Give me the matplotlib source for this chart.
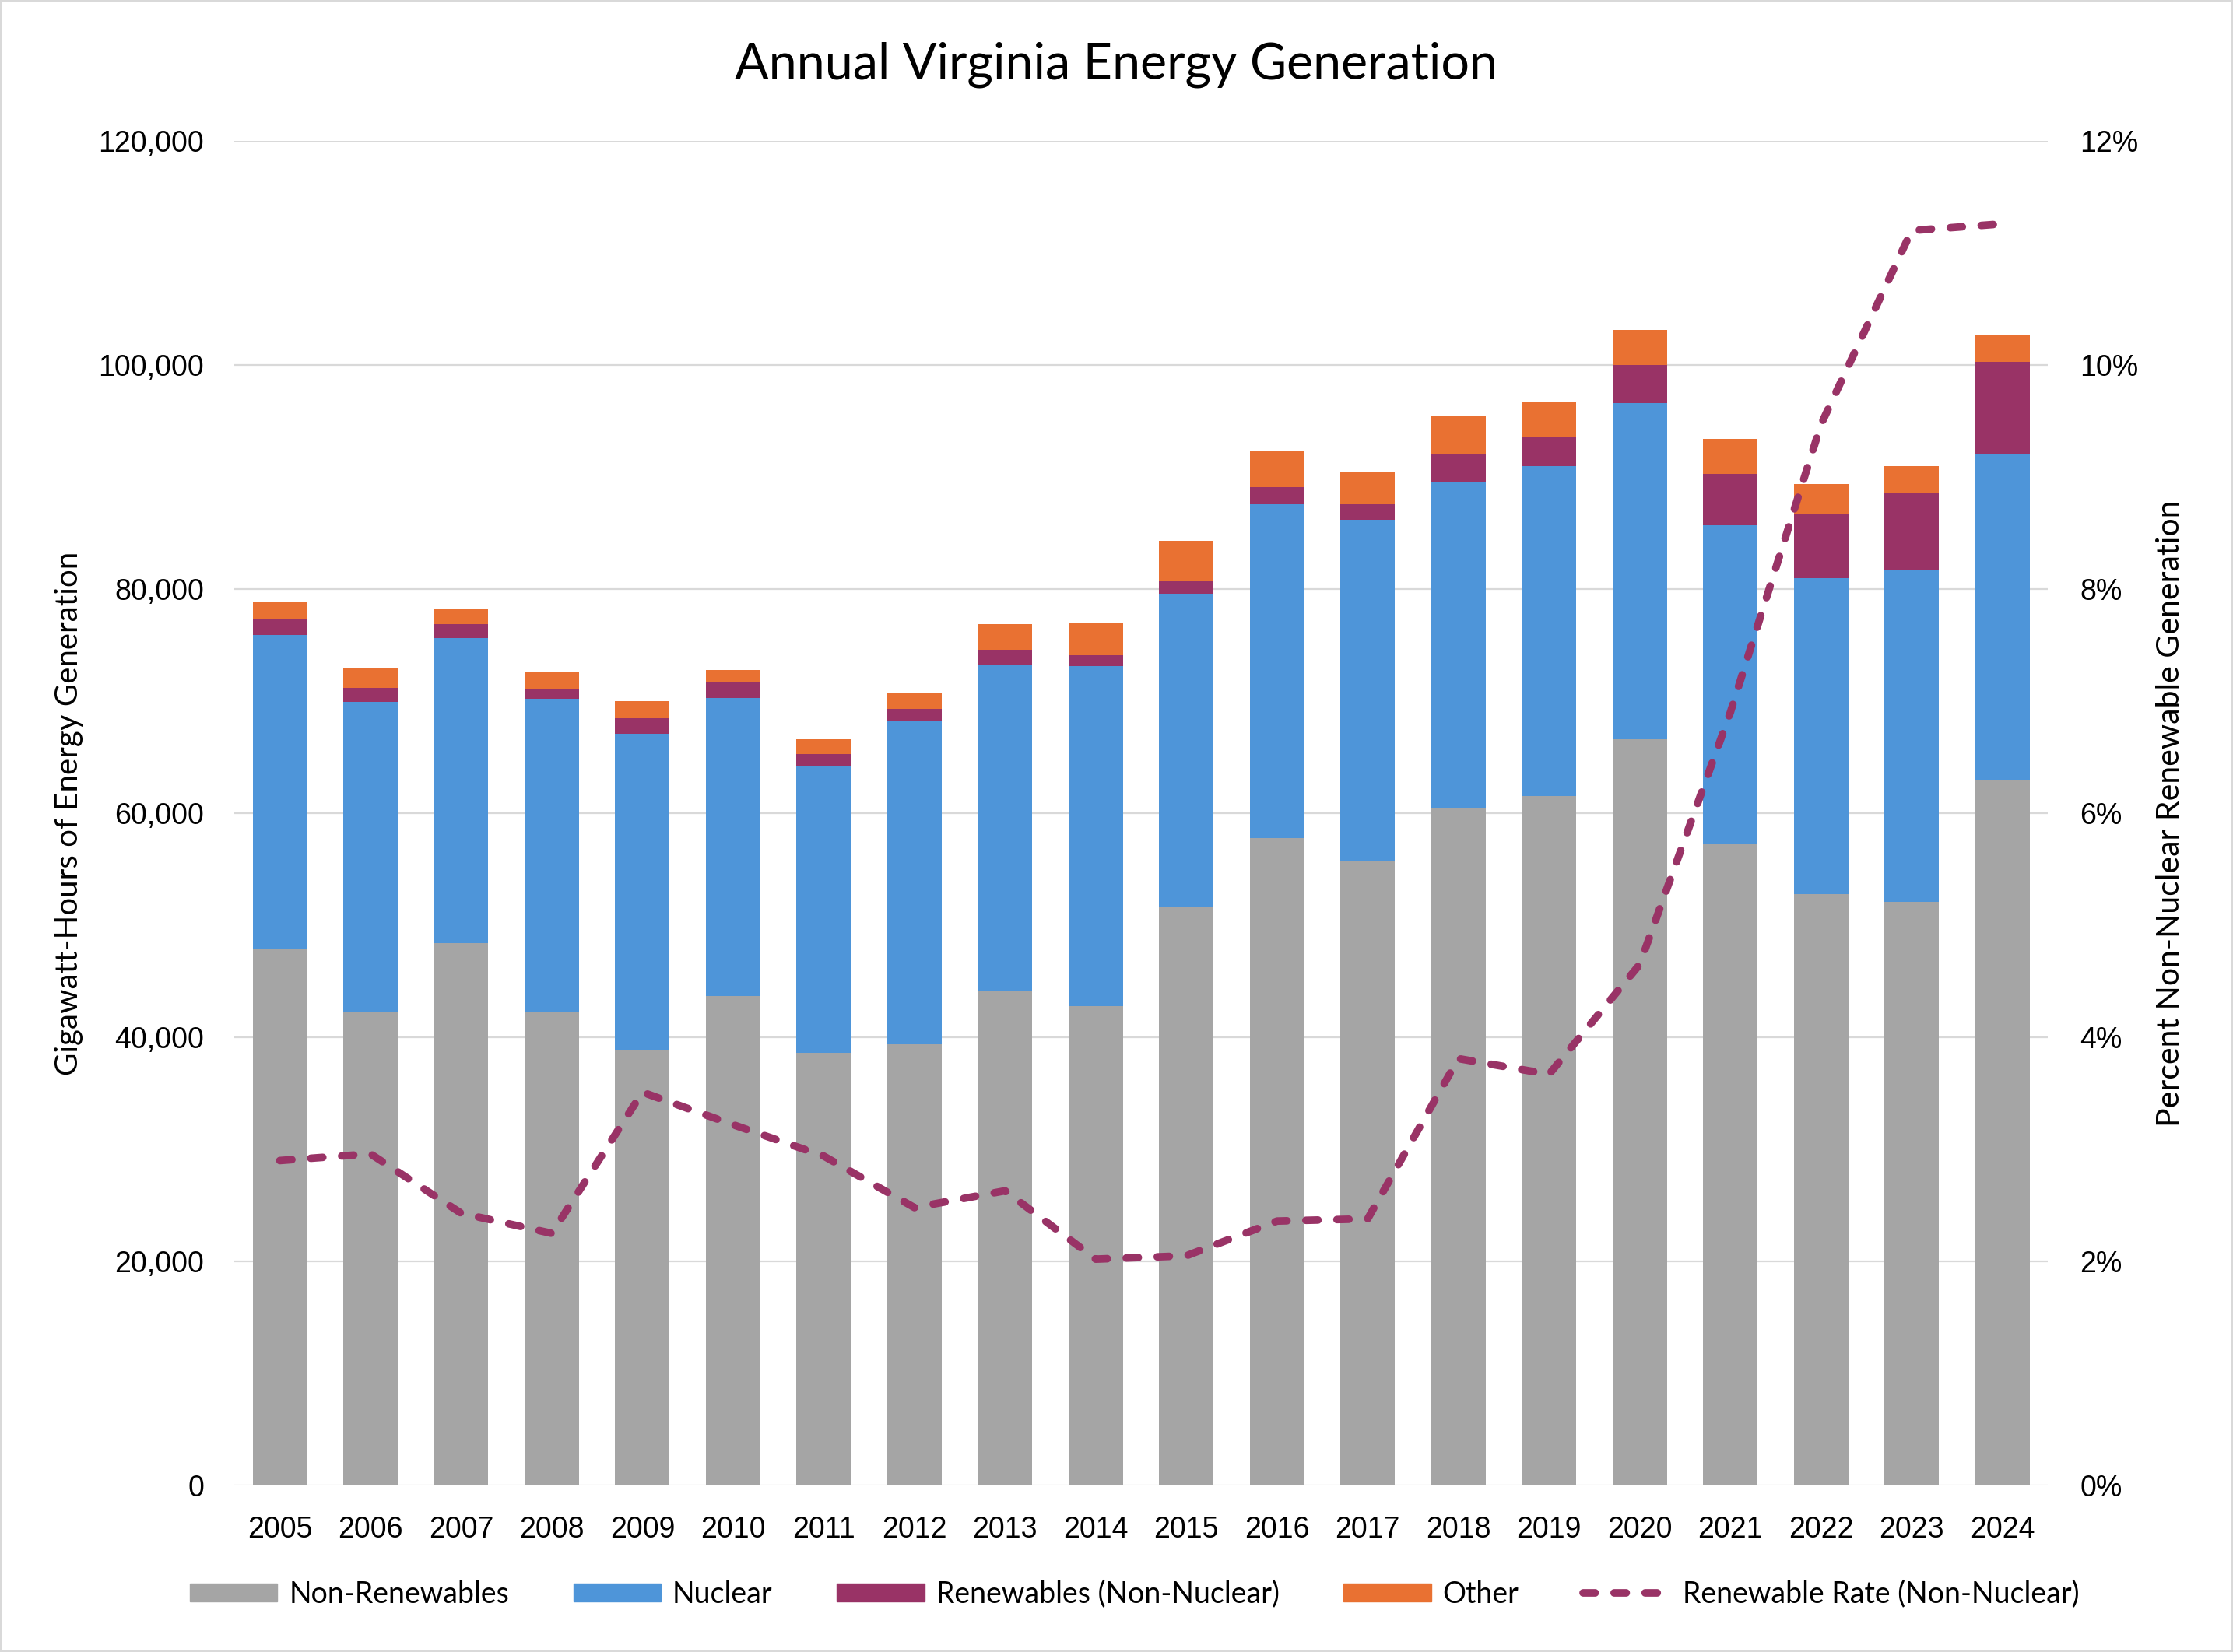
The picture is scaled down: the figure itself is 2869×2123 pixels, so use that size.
import numpy as np
import matplotlib.pyplot as plt
from matplotlib.lines import Line2D
from matplotlib.patches import Patch, Rectangle
from matplotlib.ticker import FuncFormatter

years = [str(y) for y in range(2005, 2025)]

# GWh per source
non_renew = [47.9, 42.2, 48.4, 42.2, 38.8, 43.7, 38.6, 39.4, 44.1, 42.8,
             51.6, 57.8, 55.7, 60.4, 61.5, 66.6, 57.2, 52.8, 52.1, 63.0]
nuclear = [28.0, 27.7, 27.2, 28.0, 28.3, 26.6, 25.6, 28.9, 29.2, 30.3,
           28.0, 29.8, 30.5, 29.1, 29.5, 30.0, 28.5, 28.2, 29.6, 29.0]
renew = [1.4, 1.3, 1.3, 0.9, 1.4, 1.4, 1.1, 1.0, 1.3, 1.0,
         1.1, 1.5, 1.4, 2.5, 2.6, 3.4, 4.6, 5.7, 6.9, 8.3]
other = [1.5, 1.8, 1.4, 1.5, 1.5, 1.1, 1.3, 1.4, 2.3, 2.9,
         3.6, 3.3, 2.8, 3.5, 3.1, 3.1, 3.1, 2.7, 2.4, 2.4]
rate = [2.90, 2.96, 2.43, 2.25, 3.51, 3.22, 2.94, 2.48, 2.63, 2.02,
        2.05, 2.36, 2.38, 3.81, 3.67, 4.65, 6.90, 9.47, 11.20, 11.26]

non_renew = np.array(non_renew) * 1000
nuclear = np.array(nuclear) * 1000
renew = np.array(renew) * 1000
other = np.array(other) * 1000
rate = np.array(rate) / 100

c_gray = '#A5A5A5'
c_blue = '#4E95D9'
c_purple = '#993366'
c_orange = '#E97132'

plt.rcParams['font.family'] = ['Liberation Sans', 'DejaVu Sans']
lab_font = ['Lato', 'DejaVu Sans']
dash = (0, (1.6, 2.5))

fig = plt.figure(figsize=(28.69, 21.23), dpi=100)
ax = fig.add_axes([0.105, 0.1008, 0.812, 0.8139])
x = np.arange(len(years))
w = 0.6

ax.bar(x, non_renew, w, color=c_gray, zorder=2)
ax.bar(x, nuclear, w, bottom=non_renew, color=c_blue, zorder=2)
ax.bar(x, renew, w, bottom=non_renew + nuclear, color=c_purple, zorder=2)
ax.bar(x, other, w, bottom=non_renew + nuclear + renew, color=c_orange, zorder=2)

ax.set_ylim(0, 120000)
ax.set_xlim(-0.5, len(years) - 0.5)
ax.set_yticks(np.arange(0, 120001, 20000))
ax.yaxis.set_major_formatter(FuncFormatter(lambda v, p: f'{int(v):,}'))
ax.set_xticks(x)
ax.set_xticklabels(years)
ax.grid(axis='y', color='#D9D9D9', lw=1.6, zorder=0)
ax.tick_params(axis='both', length=0, labelsize=27)
ax.tick_params(axis='y', pad=28)
ax.tick_params(axis='x', pad=28)
for s in ax.spines.values():
    s.set_visible(False)
ax.set_ylabel('Gigawatt-Hours of Energy Generation', fontsize=29,
              family=lab_font, labelpad=14)

ax2 = ax.twinx()
ax2.plot(x, rate, color=c_purple, lw=7, ls=dash,
         dash_capstyle='round', zorder=3)
ax2.set_ylim(0, 0.12)
ax2.set_yticks(np.arange(0, 0.1201, 0.02))
ax2.yaxis.set_major_formatter(FuncFormatter(lambda v, p: f'{v*100:.0f}%'))
ax2.tick_params(axis='y', length=0, labelsize=27, pad=30)
for s in ax2.spines.values():
    s.set_visible(False)
ax2.set_ylabel('Percent Non-Nuclear Renewable Generation', fontsize=29.5,
               family=lab_font, labelpad=16)

fig.suptitle('Annual Virginia Energy Generation', fontsize=46.5,
             family=lab_font, y=0.961, va='center')

handles = [Patch(color=c_gray, label='Non-Renewables'),
           Patch(color=c_blue, label='Nuclear'),
           Patch(color=c_purple, label='Renewables (Non-Nuclear)'),
           Patch(color=c_orange, label='Other'),
           Line2D([], [], color=c_purple, lw=7, ls=dash,
                  dash_capstyle='round', label='Renewable Rate (Non-Nuclear)')]
fig.legend(handles=handles, loc='center', bbox_to_anchor=(0.508, 0.035),
           ncol=5, frameon=False, prop={'family': lab_font, 'size': 27},
           handlelength=3.0, handleheight=0.6, columnspacing=2.2,
           handletextpad=0.4)

fig.add_artist(Rectangle((0, 0), 1, 1, transform=fig.transFigure,
                         fill=False, edgecolor='#D9D9D9', lw=3))

fig.savefig('out.png', dpi=100)
